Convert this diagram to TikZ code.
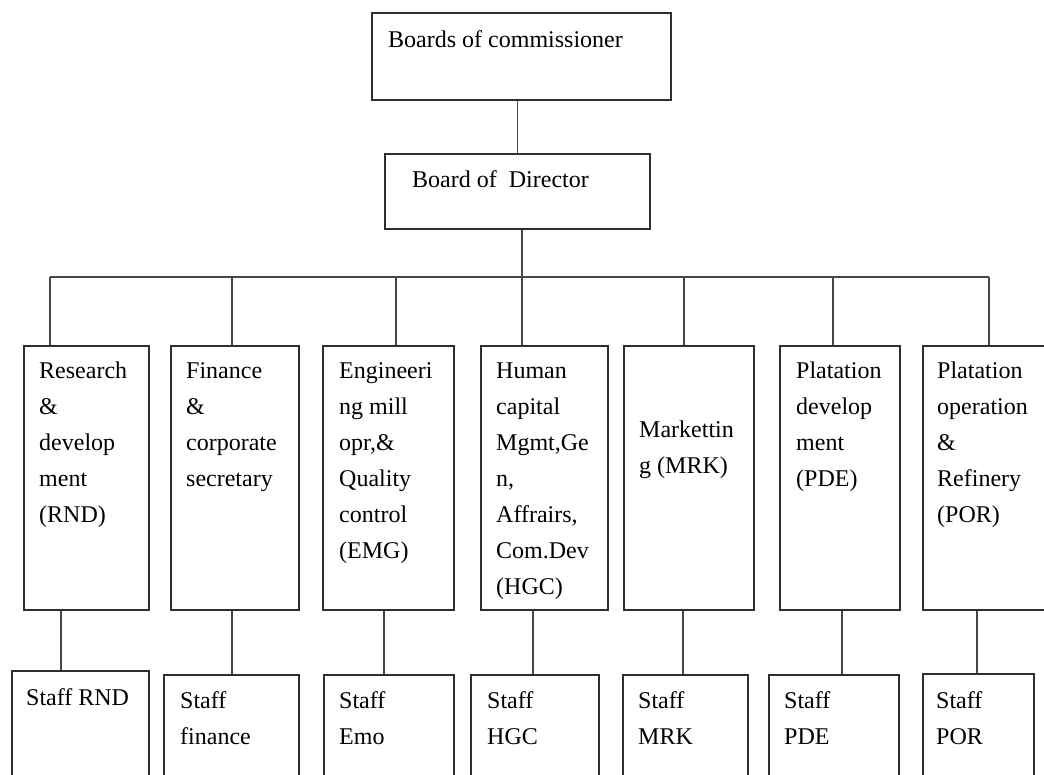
\documentclass[tikz,border=0pt]{standalone}
\usepackage{fontspec}
\setmainfont{Liberation Serif}
\begin{document}
\begin{tikzpicture}[x=1pt,y=-1pt,
  box/.style={draw=black!82, line width=1.6pt, fill=white, inner sep=0pt, anchor=north west},
  lbl/.style={anchor=north west, inner sep=0pt, align=left, text=black, font=\fontsize{24}{36}\selectfont},
  conn/.style={draw=black!72, line width=1.6pt}]
\clip (0,0) rectangle (1044,774);
\fill[white] (0,0) rectangle (1044,774);
% connectors first (boxes drawn above)
\coordinate (b1) at (50,277);
\coordinate (b2) at (232,277);
\coordinate (b3) at (396,277);
\coordinate (b4) at (522,277);
\coordinate (b5) at (684,277);
\coordinate (b6) at (833,277);
\coordinate (b7) at (989,277);
\coordinate (c1) at (61,640);
\coordinate (c2) at (232,640);
\coordinate (c3) at (384,640);
\coordinate (c4) at (533,640);
\coordinate (c5) at (683,640);
\coordinate (c6) at (842,640);
\coordinate (c7) at (977,640);
% top boxes
\node[box, minimum width=299pt, minimum height=87pt] (comm) at (371,12) {};
\node[box, minimum width=265pt, minimum height=75pt] (bod) at (384,153) {};
% department boxes
\node[box, minimum width=125pt, minimum height=264pt] (d1) at (23,345) {};
\node[box, minimum width=128pt, minimum height=264pt] (d2) at (170,345) {};
\node[box, minimum width=131pt, minimum height=264pt] (d3) at (322,345) {};
\node[box, minimum width=127pt, minimum height=264pt] (d4) at (480,345) {};
\node[box, minimum width=130pt, minimum height=264pt] (d5) at (623,345) {};
\node[box, minimum width=120pt, minimum height=264pt] (d6) at (779,345) {};
\node[box, minimum width=140pt, minimum height=264pt] (d7) at (922,345) {};
% staff boxes
\node[box, minimum width=137pt, minimum height=140pt] (s1) at (11,670) {};
\node[box, minimum width=135pt, minimum height=140pt] (s2) at (163,674) {};
\node[box, minimum width=130pt, minimum height=140pt] (s3) at (323,674) {};
\node[box, minimum width=128pt, minimum height=140pt] (s4) at (470,674) {};
\node[box, minimum width=125pt, minimum height=140pt] (s5) at (622,674) {};
\node[box, minimum width=130pt, minimum height=140pt] (s6) at (768,674) {};
\node[box, minimum width=111pt, minimum height=140pt] (s7) at (922,673) {};
% connectors
\draw[conn] (bod.north |- comm.south) -- (bod.north);
\draw[conn] (b4 |- bod.south) -- (b4);
\draw[conn] (b1) -- (b7);
\foreach \i in {1,...,7}{
  \draw[conn] (b\i) -- (b\i |- d\i.north);
  \draw[conn] (c\i |- d\i.south) -- (c\i |- s\i.north);
}
% labels
\node[lbl] (tcomm) at (388,21.8) {\strut Boards of commissioner};
\node[lbl] (tbod) at (412,161.8) {\strut Board of~ Director};
\node[lbl] (td1) at (39,352.8) {\strut Research\\\&\\develop\\ment\\(RND)};
\node[lbl] (td2) at (186,352.8) {\strut Finance\\\&\\corporate\\secretary};
\node[lbl] (td3) at (339,352.8) {\strut Engineeri\\ng mill\\opr,\&\\Quality\\control\\(EMG)};
\node[lbl] (td4) at (496,352.8) {\strut Human\\capital\\Mgmt,Ge\\n,\\Affrairs,\\Com.Dev\\(HGC)};
\node[lbl] (td5) at (639,411.8) {\strut Markettin\\g (MRK)};
\node[lbl] (td6) at (796,352.8) {\strut Platation\\develop\\ment\\(PDE)};
\node[lbl] (td7) at (937,352.8) {\strut Platation\\operation\\\&\\Refinery\\(POR)};
\node[lbl] (ts1) at (26,679.8) {\strut Staff RND};
\node[lbl] (ts2) at (180,682.8) {\strut Staff\\finance};
\node[lbl] (ts3) at (339,682.8) {\strut Staff\\Emo};
\node[lbl] (ts4) at (487,682.8) {\strut Staff\\HGC};
\node[lbl] (ts5) at (638,682.8) {\strut Staff\\MRK};
\node[lbl] (ts6) at (784,682.8) {\strut Staff\\PDE};
\node[lbl] (ts7) at (936,682.8) {\strut Staff\\POR};
\end{tikzpicture}
\end{document}
